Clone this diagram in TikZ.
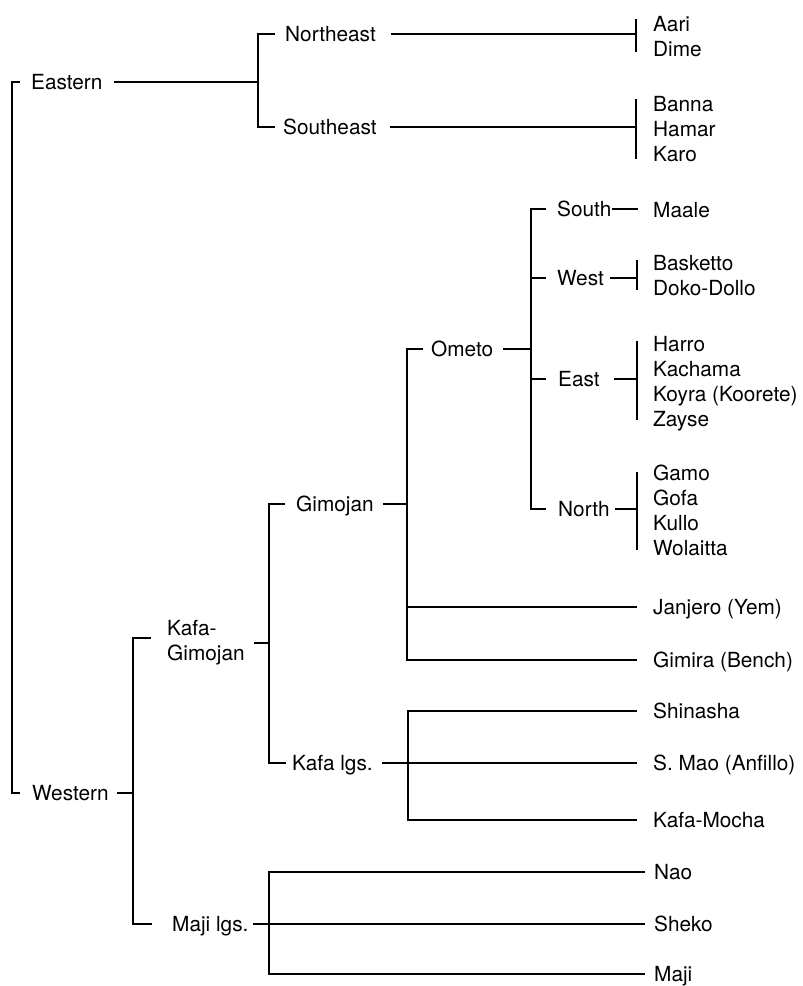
\documentclass[tikz,border=0pt]{standalone}
\usepackage{fontspec}
\setmainfont{TeX Gyre Heros}
\begin{document}
\begin{tikzpicture}[x=1pt,y=-1pt,
  lab/.style={anchor=west, inner sep=0pt, text height=15pt, text depth=0pt,
              font=\fontsize{20.8}{25}\selectfont},
  twoline/.style={anchor=west, inner sep=0pt, align=left,
              font=\fontsize{20.8}{25}\selectfont},
  wire/.style={line width=1.5pt, line join=miter}]
\useasboundingbox (0,0) rectangle (803,986);

% ---------- labels ----------
\node[lab] (E)  at (31,82)  {Eastern};
\node[lab] (W)  at (32,793) {Western};

\node[lab] (NE) at (285,34)  {Northeast};
\node[lab] (SE) at (283,127) {Southeast};
\node[lab] (aari)  at (653,24)  {Aari};
\node[lab] (dime)  at (653,49)  {Dime};
\node[lab] (banna) at (653,104) {Banna};
\node[lab] (hamar) at (653,129) {Hamar};
\node[lab] (karo)  at (653,154) {Karo};

\node[twoline] (KG) at (167,643) {Kafa-\\Gimojan};
\node[lab] (GJ) at (296,504) {Gimojan};
\node[lab] (KL) at (292,763) {Kafa lgs.};
\node[lab] (MJ) at (172,924) {Maji lgs.};

\node[lab] (OM) at (431,349) {Ometo};
\node[lab] (SO) at (557,209) {South};
\node[lab] (WE) at (557,278) {West};
\node[lab] (EA) at (558,379) {East};
\node[lab] (NO) at (558,509) {North};

\node[lab] (maale) at (653,210) {Maale};
\node[lab] (bask)  at (653,263) {Basketto};
\node[lab] (doko)  at (653,288) {Doko-Dollo};
\node[lab] (harro) at (653,344) {Harro};
\node[lab] (kach)  at (653,369) {Kachama};
\node[lab] (koyra) at (653,394) {Koyra (Koorete)};
\node[lab] (zayse) at (653,419) {Zayse};
\node[lab] (gamo)  at (653,473) {Gamo};
\node[lab] (gofa)  at (653,498) {Gofa};
\node[lab] (kullo) at (653,523) {Kullo};
\node[lab] (wol)   at (653,548) {Wolaitta};
\node[lab] (jan)   at (653,607) {Janjero (Yem)};
\node[lab] (gim)   at (653,660) {Gimira (Bench)};

\node[lab] (shin)  at (653,711) {Shinasha};
\node[lab] (smao)  at (653,763) {S. Mao (Anfillo)};
\node[lab] (kmoc)  at (653,820) {Kafa-Mocha};

\node[lab] (nao)   at (654,872) {Nao};
\node[lab] (sheko) at (654,924) {Sheko};
\node[lab] (maji)  at (654,974) {Maji};

% ---------- junctions ----------
\coordinate (jE)  at (258,82);
\coordinate (jW)  at (133,793);
\coordinate (jKG) at (269,643);
\coordinate (jGJ) at (407,504);
\coordinate (jOM) at (531,349);
\coordinate (jKL) at (408,763);
\coordinate (jMJ) at (269,924);
\coordinate (bA) at ([xshift=-17pt]aari.west);
\coordinate (bB) at ([xshift=-17pt]banna.west);
\coordinate (bW) at ([xshift=-16pt]bask.west);
\coordinate (bE) at ([xshift=-16pt]harro.west);
\coordinate (bN) at ([xshift=-16pt]gamo.west);
\coordinate (eM) at ([xshift=-15pt]maale.west);

% ---------- root ----------
\draw[wire] ([xshift=-11pt]E.west) -- ++(-8,0) |- ([xshift=-12pt]W.west);

% ---------- Eastern ----------
\draw[wire] ([xshift=11pt]E.east) -- (jE);
\draw[wire] ([xshift=-10pt]NE.west) -| (jE) |- ([xshift=-8pt]SE.west);
\draw[wire] ([xshift=15pt]NE.east) -- (NE.east -| bA);
\draw[wire] ([yshift=5pt]bA) -- ([yshift=-3pt]bA |- dime.west);
\draw[wire] ([xshift=13pt]SE.east) -- (SE.east -| bB);
\draw[wire] ([yshift=5pt]bB) -- ([yshift=-5pt]bB |- karo.west);

% ---------- Western ----------
\draw[wire] ([xshift=8pt]W.east) -- (jW);
\draw[wire] ([xshift=-16pt,yshift=5pt]KG.west) -| (jW) |- ([xshift=-20pt]MJ.west);

% Kafa-Gimojan
\draw[wire] ([xshift=9pt]KG.east) -- (jKG);
\draw[wire] ([xshift=-11pt]GJ.west) -| (jKG) |- ([xshift=-6pt]KL.west);

% Gimojan
\draw[wire] ([xshift=9pt]GJ.east) -- (jGJ);
\draw[wire] ([xshift=-8pt]OM.west) -| (jGJ) |- ([xshift=-16pt]gim.west);
\draw[wire] (jGJ |- jan.west) -- ([xshift=-16pt]jan.west);

% Ometo
\draw[wire] ([xshift=10pt]OM.east) -- (jOM);
\draw[wire] ([xshift=-11pt]SO.west) -| (jOM) |- ([xshift=-12pt]NO.west);
\draw[wire] (jOM |- WE.west) -- ([xshift=-11pt]WE.west);
\draw[wire] (jOM |- EA.west) -- ([xshift=-12pt]EA.west);

% Ometo subgroups
\draw[wire] (SO.east) -- (SO.east -| eM);
\draw[wire] ([xshift=6pt]WE.east) -- (WE.east -| bW);
\draw[wire] ([yshift=3pt]bW) -- ([yshift=-2pt]bW |- doko.west);
\draw[wire] ([xshift=14pt]EA.east) -- (EA.east -| bE);
\draw[wire] ([yshift=3pt]bE) -- ([yshift=-1pt]bE |- zayse.west);
\draw[wire] ([xshift=5pt]NO.east) -- (NO.east -| bN);
\draw[wire] ([yshift=1pt]bN) -- ([yshift=-2pt]bN |- wol.west);

% Kafa languages
\draw[wire] ([xshift=9pt]KL.east) -- ([xshift=-16pt]smao.west);
\draw[wire] ([xshift=-16pt]shin.west) -| (jKL) |- ([xshift=-16pt]kmoc.west);

% Maji languages
\draw[wire] ([xshift=4pt]MJ.east) -- ([xshift=-9pt]sheko.west);
\draw[wire] ([xshift=-9pt]nao.west) -| (jMJ) |- ([xshift=-9pt]maji.west);
\end{tikzpicture}
\end{document}
